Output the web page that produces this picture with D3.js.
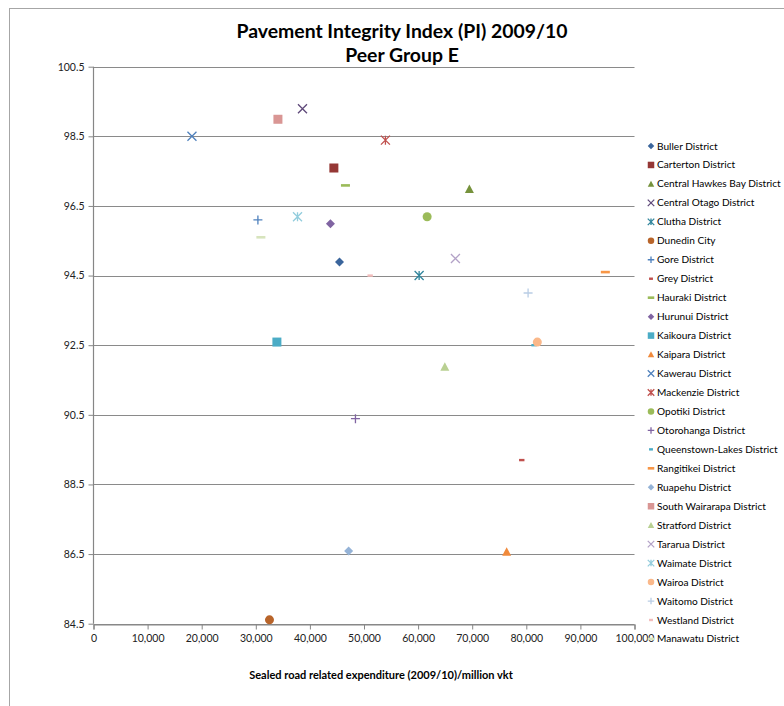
<!DOCTYPE html>
<html>
<head>
<meta charset="utf-8">
<script src="https://cdn.jsdelivr.net/npm/d3@7"></script>
<style>
  html, body { margin: 0; padding: 0; background: #fff; }
  svg { display: block; font-family: Lato, "Open Sans", sans-serif; }
</style>
</head>
<body>
<svg id="chart" width="784" height="706"></svg>
<script>
// Pavement Integrity Index vs sealed road expenditure, peer group E councils
const districts = [
  "Buller District", "Carterton District", "Central Hawkes Bay District",
  "Central Otago District", "Clutha District", "Dunedin City", "Gore District",
  "Grey District", "Hauraki District", "Hurunui District", "Kaikoura District",
  "Kaipara District", "Kawerau District", "Mackenzie District", "Opotiki District",
  "Otorohanga District", "Queenstown-Lakes District", "Rangitikei District",
  "Ruapehu District", "South Wairarapa District", "Stratford District",
  "Tararua District", "Waimate District", "Wairoa District", "Waitomo District",
  "Westland District", "Manawatu District"
];

// Sealed road related expenditure (2009/10) per million vkt
const expenditure = [
  45470, 44430, 69480, 38630, 60190, 32530, 30390,
  79160, 46570, 43800, 33900, 76370, 18200, 53960, 61670,
  48420, 81430, 94610, 47160, 34090, 64940,
  66900, 37710, 82040, 80330, 51140, 30940
];

// Pavement Integrity Index (PI) 2009/10
const pii = [
  94.89, 97.59, 96.99, 99.29, 94.50, 84.61, 96.10,
  89.20, 97.09, 95.99, 92.59, 86.57, 98.50, 98.39, 96.19,
  90.39, 92.50, 94.60, 86.59, 98.99, 91.88,
  94.99, 96.19, 92.59, 94.00, 94.50, 95.60
];

const xTicks = [0, 10000, 20000, 30000, 40000, 50000, 60000, 70000, 80000, 90000, 100000];
const yTicks = [84.5, 86.5, 88.5, 90.5, 92.5, 94.5, 96.5, 98.5, 100.5];

// Marker colours and shapes, one per district
const palette = [
  "#3a659c", "#953735", "#76923c", "#5f497a", "#31859c", "#b8642a", "#4f81bd",
  "#c0504d", "#9bbb59", "#8064a2", "#4bacc6", "#f08a3c", "#4f81bd", "#c0504d", "#9bbb59",
  "#8064a2", "#4bacc6", "#f79646", "#95b3d7", "#d99694", "#b9d092",
  "#b3a2c7", "#93cddd", "#fab88a", "#b9cde5", "#f2bcbb", "#d7e4bd"
];
const shapeCycle = ["diamond", "square", "triangle", "x", "star", "circle", "plus", "shortdash", "longdash"];

const svg = d3.select("#chart");
const W = 784, H = 706;

// outer chart frame
svg.append("rect")
  .attr("x", 9.5).attr("y", 8.5)
  .attr("width", W + 20).attr("height", H + 20)
  .attr("fill", "none").attr("stroke", "#a6a6a6").attr("stroke-width", 1);

const plot = { left: 93.5, right: 634.5, top: 66.7, bottom: 623.7 };

const x = d3.scaleLinear().domain([0, 100000]).range([plot.left, plot.right]);
const y = d3.scaleLinear().domain([84.5, 100.5]).range([plot.bottom, plot.top]);

// title
const title = svg.append("text")
  .attr("x", 402).attr("text-anchor", "middle")
  .attr("font-weight", "bold").attr("font-size", 19.4).attr("fill", "#000");
title.append("tspan").attr("x", 402).attr("y", 38).text("Pavement Integrity Index (PI) 2009/10");
title.append("tspan").attr("x", 402).attr("y", 62).text("Peer Group E");

// horizontal gridlines
svg.append("g")
  .selectAll("line")
  .data(yTicks)
  .join("line")
  .attr("x1", plot.left).attr("x2", plot.right)
  .attr("y1", d => Math.round(y(d)) + 0.5).attr("y2", d => Math.round(y(d)) + 0.5)
  .attr("stroke", "#8a8a8a").attr("stroke-width", 1.2);

// y axis
const yAxis = svg.append("g")
  .attr("transform", `translate(${plot.left},0)`)
  .call(d3.axisLeft(y).tickValues(yTicks).tickSize(5).tickPadding(4).tickFormat(d3.format(".1f")));

// x axis
const xAxis = svg.append("g")
  .attr("transform", `translate(0,${Math.round(plot.bottom) + 0.5})`)
  .call(d3.axisBottom(x).tickValues(xTicks).tickSize(5).tickPadding(5).tickFormat(d3.format(",")));

[xAxis, yAxis].forEach(g => {
  g.select(".domain").attr("stroke", "#868686").attr("stroke-width", 1.2);
  g.selectAll(".tick line").attr("stroke", "#868686");
  g.selectAll(".tick text")
    .attr("font-family", "Lato, sans-serif")
    .attr("font-size", 10.5).attr("fill", "#222");
});
yAxis.select(".domain").attr("d", `M-0,${plot.bottom}V${plot.top}`);

// x axis title
svg.append("text")
  .attr("x", 381).attr("y", 679)
  .attr("text-anchor", "middle")
  .attr("font-weight", "bold").attr("font-size", 11)
  .attr("fill", "#000")
  .text("Sealed road related expenditure (2009/10)/million vkt");

// marker drawing
function drawMarker(g, shape, color, s) {
  const h = s / 2;
  switch (shape) {
    case "diamond":
      g.append("path").attr("d", `M0,${-h}L${h},0L0,${h}L${-h},0Z`).attr("fill", color);
      break;
    case "square":
      g.append("rect").attr("x", -h).attr("y", -h).attr("width", s).attr("height", s).attr("fill", color);
      break;
    case "triangle":
      g.append("path").attr("d", `M0,${-h}L${h},${h - 0.5}L${-h},${h - 0.5}Z`).attr("fill", color);
      break;
    case "circle":
      g.append("circle").attr("r", h).attr("fill", color);
      break;
    case "x":
      g.append("path").attr("d", `M${-h},${-h}L${h},${h}M${h},${-h}L${-h},${h}`)
        .attr("stroke", color).attr("stroke-width", 1.3).attr("fill", "none");
      break;
    case "star":
      g.append("path").attr("d", `M${-h},${-h}L${h},${h}M${h},${-h}L${-h},${h}M0,${-h}V${h}`)
        .attr("stroke", color).attr("stroke-width", 1.3).attr("fill", "none");
      break;
    case "plus":
      g.append("path").attr("d", `M${-h},0H${h}M0,${-h}V${h}`)
        .attr("stroke", color).attr("stroke-width", 1.3).attr("fill", "none");
      break;
    case "shortdash":
      g.append("rect").attr("x", -s * 0.3).attr("y", -1.2).attr("width", s * 0.6).attr("height", 2.4).attr("fill", color);
      break;
    case "longdash":
      g.append("rect").attr("x", -h).attr("y", -1.3).attr("width", s).attr("height", 2.6).attr("fill", color);
      break;
  }
}

// data points
const points = districts.map((name, i) => ({
  name, x: expenditure[i], y: pii[i],
  color: palette[i], shape: shapeCycle[i % shapeCycle.length]
}));

const pts = svg.append("g")
  .selectAll("g")
  .data(points)
  .join("g")
  .attr("transform", d => `translate(${x(d.x)},${y(d.y)})`);
pts.each(function (d) { drawMarker(d3.select(this), d.shape, d.color, 9); });

// legend
const legend = svg.append("g")
  .selectAll("g")
  .data(points)
  .join("g")
  .attr("transform", (d, i) => `translate(651,${146 + i * 18.96})`);
legend.each(function (d) { drawMarker(d3.select(this), d.shape, d.color, 6.5); });
legend.append("text")
  .attr("x", 6).attr("y", 3.5)
  .attr("font-size", 10.1).attr("fill", "#000")
  .text(d => d.name);
</script>
</body>
</html>
